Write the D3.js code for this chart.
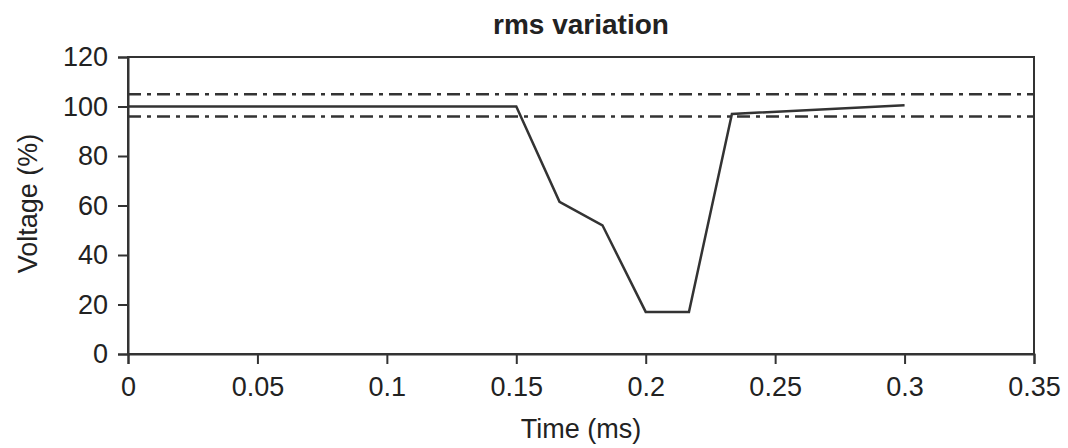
<!DOCTYPE html>
<html>
<head>
<meta charset="utf-8">
<script src="https://cdn.jsdelivr.net/npm/d3@7"></script>
<style>
  body { margin: 0; background: #fff; }
  text { font-family: "Liberation Sans", Arial, sans-serif; fill: #222; }
</style>
</head>
<body>
<main></main>
<script>
// rms voltage samples
const time = [0, 0.15, 0.1667, 0.1833, 0.2, 0.2167, 0.2333, 0.3]
const voltage = [100, 100, 61.5, 52, 17, 17, 97, 100.5]
// tolerance band (dash-dot lines)
const limits = [105, 96]
const xTicks = [0, 0.05, 0.1, 0.15, 0.2, 0.25, 0.3, 0.35]
const yTicks = [0, 20, 40, 60, 80, 100, 120]

const W = 1068, H = 448
const margin = {top: 57, right: 34, bottom: 94, left: 128}
const width = W - margin.left - margin.right
const height = H - margin.top - margin.bottom
const ink = '#333'

const x = d3.scaleLinear().domain([0, 0.35]).range([0, width])
const y = d3.scaleLinear().domain([0, 120]).range([height, 0])

const svg = d3.select('main').append('svg')
  .attr('width', W)
  .attr('height', H)
const g = svg.append('g')
  .attr('transform', `translate(${margin.left},${margin.top})`)

// frame
g.append('rect')
  .attr('x', x(0)).attr('y', y(120))
  .attr('width', x(0.35) - x(0)).attr('height', y(0) - y(120))
  .attr('fill', 'none').attr('stroke', ink).attr('stroke-width', 2)

const xAxis = g.append('g')
  .attr('transform', `translate(0,${height})`)
  .call(d3.axisBottom(x).tickValues(xTicks).tickSize(10).tickPadding(13)
    .tickFormat(d => d === 0 ? '0' : String(+d.toFixed(2))))
const yAxis = g.append('g')
  .call(d3.axisLeft(y).tickValues(yTicks).tickSize(10).tickPadding(10))

;[xAxis, yAxis].forEach(a => {
  a.select('.domain').attr('stroke', ink).attr('stroke-width', 2)
  a.selectAll('.tick line').attr('stroke', ink).attr('stroke-width', 2)
  a.selectAll('.tick text')
    .attr('font-family', '"Liberation Sans", Arial, sans-serif')
    .attr('font-size', 27).attr('fill', '#222')
})

// limit lines
g.selectAll('.limit')
  .data(limits)
  .enter().append('line')
  .attr('class', 'limit')
  .attr('x1', x(0)).attr('x2', x(0.35))
  .attr('y1', d => y(d)).attr('y2', d => y(d))
  .attr('stroke', ink).attr('stroke-width', 2.5)
  .attr('stroke-dasharray', '13,6,4,6')

const line = d3.line()
  .x((d, i) => x(time[i]))
  .y(d => y(d))

g.append('path')
  .datum(voltage)
  .attr('d', line)
  .attr('fill', 'none')
  .attr('stroke', ink)
  .attr('stroke-width', 2.5)

svg.append('text')
  .attr('x', margin.left + width / 2).attr('y', 34)
  .attr('text-anchor', 'middle')
  .attr('font-size', 28).attr('font-weight', 'bold')
  .text('rms variation')

svg.append('text')
  .attr('x', margin.left + width / 2).attr('y', 438)
  .attr('text-anchor', 'middle')
  .attr('font-size', 27)
  .text('Time (ms)')

svg.append('text')
  .attr('transform', `translate(37,${margin.top + height / 2 - 2}) rotate(-90)`)
  .attr('text-anchor', 'middle')
  .attr('font-size', 27)
  .text('Voltage (%)')
</script>
</body>
</html>
